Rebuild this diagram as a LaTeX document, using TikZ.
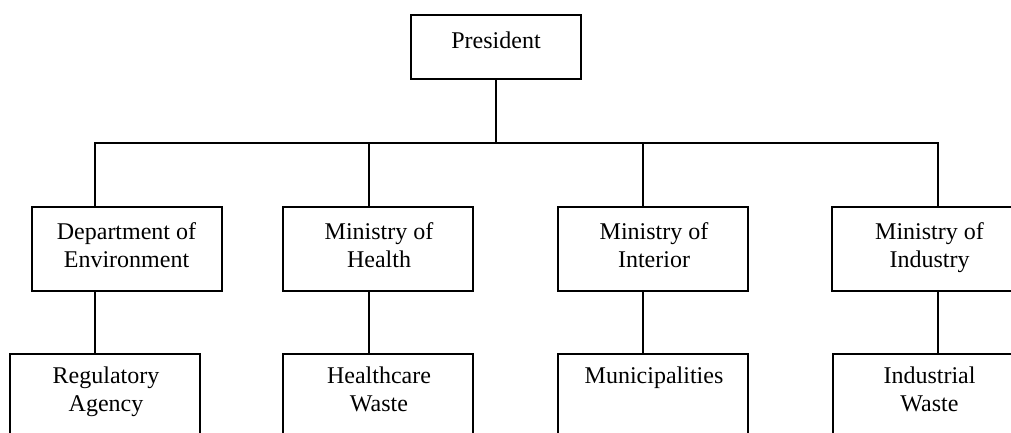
\documentclass[tikz,border=0pt]{standalone}
\usepackage{fontspec}
\setmainfont{Liberation Serif}
\begin{document}
\begin{tikzpicture}[x=1pt,y=-1pt,
  box/.style={draw, line width=1.8pt, rectangle, inner sep=0pt, outer sep=0pt, anchor=north west, minimum width=190pt},
  toprow/.style={box, minimum height=84pt},
  subrow/.style={box, minimum height=160pt},
  lbl/.style={inner sep=0pt, anchor=north, align=center, font=\fontsize{24}{28}\selectfont},
  link/.style={line width=1.8pt, line cap=rect}]
\useasboundingbox (0,0) rectangle (1011,433);
\clip (0,0) rectangle (1011,433);

% head of the chart
\node[box, minimum width=170pt, minimum height=64pt] (pres) at (411,15) {};
\node[lbl] (prest) at (496,32) {President};

% ministries
\node[toprow] (dep1) at (32,207) {};
\node[toprow] (dep2) at (283,207) {};
\node[toprow] (dep3) at (558,207) {};
\node[toprow] (dep4) at (832,207) {};
\node[lbl] (dep1t) at (126.5,222.5) {Department of\\Environment};
\node[lbl] (dep2t) at (379,222.5) {Ministry of\\Health};
\node[lbl] (dep3t) at (654,222.5) {Ministry of\\Interior};
\node[lbl] (dep4t) at (929.5,222.5) {Ministry of\\Industry};

% subordinate bodies
\node[subrow] (sub1) at (10,354) {};
\node[subrow] (sub2) at (283,354) {};
\node[subrow] (sub3) at (558,354) {};
\node[subrow] (sub4) at (833,354) {};
\node[lbl] (sub1t) at (106,366.5) {Regulatory\\Agency};
\node[lbl] (sub2t) at (379,366.5) {Healthcare\\Waste};
\node[lbl] (sub3t) at (654,366.5) {Municipalities};
\node[lbl] (sub4t) at (929.5,366.5) {Industrial\\Waste};

% distribution bus
\coordinate (bus) at (496,143);
\coordinate (c1) at (95,143);
\coordinate (c2) at (369,143);
\coordinate (c3) at (643,143);
\coordinate (c4) at (938,143);

\draw[link] (pres.south) -- (pres.south |- bus);
\draw[link] (c1) -- (c4);
\foreach \i in {1,2,3,4} {
  \draw[link] (c\i) -- (c\i |- dep\i.north);
  \draw[link] (c\i |- dep\i.south) -- (c\i |- sub\i.north);
}
\end{tikzpicture}
\end{document}
